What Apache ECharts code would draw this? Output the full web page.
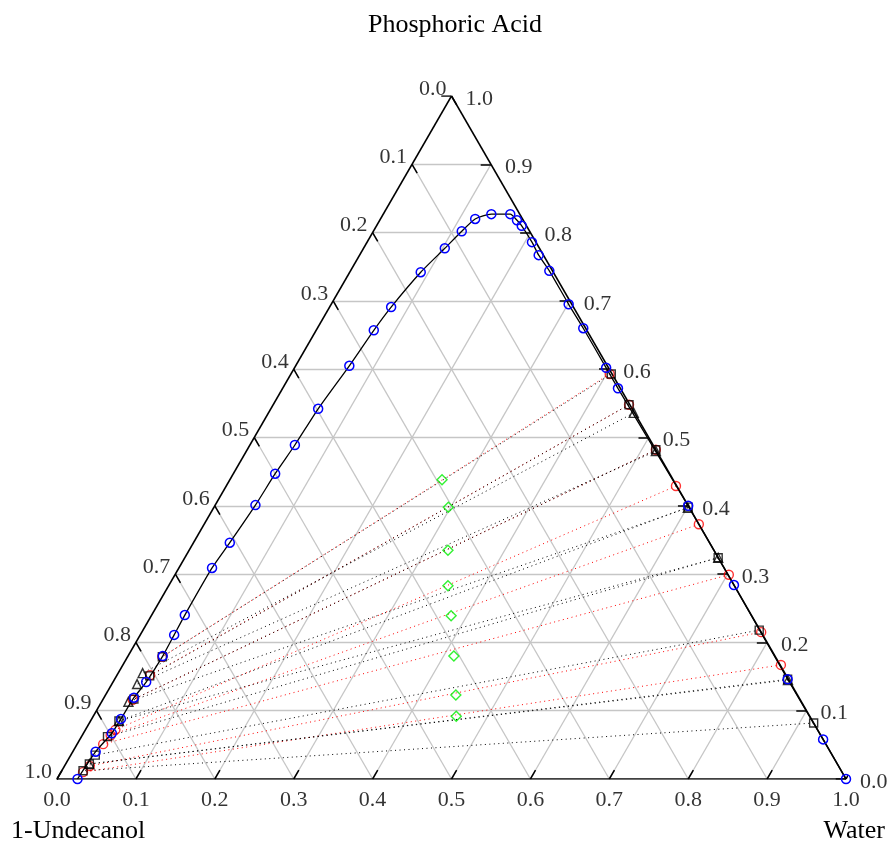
<!DOCTYPE html>
<html>
<head>
<meta charset="utf-8">
<script src="https://cdn.jsdelivr.net/npm/echarts@6/dist/echarts.min.js"></script>
<style>
  html, body { margin: 0; background: #fff; }
  #chart { width: 890px; height: 844px; }
</style>
</head>
<body>
<div id="chart"></div>
<script>
// compositions are [water, phosphoric acid] mass fractions, 1-undecanol is the rest
const ticks = [0, 0.1, 0.2, 0.3, 0.4, 0.5, 0.6, 0.7, 0.8, 0.9, 1.0];
const tickLabels = ['0.0', '0.1', '0.2', '0.3', '0.4', '0.5', '0.6', '0.7', '0.8', '0.9', '1.0'];

// binodal curve (blue circles)
const binodalWater = [0.026, 0.029, 0.036, 0.037, 0.038, 0.042, 0.044, 0.043, 0.042, 0.042, 0.046, 0.051, 0.053,
  0.057, 0.060, 0.068, 0.073, 0.078, 0.090, 0.103, 0.112, 0.120, 0.137, 0.161, 0.174, 0.184, 0.209, 0.227,
  0.252, 0.301, 0.337, 0.395, 0.425, 0.600, 0.716, 0.853, 0.942, 1.000];
const binodalAcid = [0.000, 0.040, 0.067, 0.088, 0.119, 0.142, 0.180, 0.211, 0.240, 0.309, 0.346, 0.401, 0.447,
  0.489, 0.542, 0.605, 0.657, 0.691, 0.742, 0.777, 0.802, 0.820, 0.827, 0.827, 0.818, 0.810, 0.786, 0.767,
  0.744, 0.695, 0.660, 0.602, 0.572, 0.400, 0.284, 0.146, 0.058, 0.000];

// tie lines, red circles
const redAqWater = [0.404, 0.451, 0.518, 0.570, 0.627, 0.702, 0.785, 0.834];
const redAqAcid = [0.593, 0.548, 0.482, 0.429, 0.373, 0.299, 0.215, 0.167];
const redOrgWater = [0.044, 0.042, 0.038, 0.038, 0.036, 0.033, 0.032, 0.028];
const redOrgAcid = [0.179, 0.152, 0.116, 0.072, 0.064, 0.051, 0.019, 0.010];

// tie lines, black squares
const squareAqWater = [0.406, 0.451, 0.518, 0.601, 0.676, 0.781, 0.853, 0.918];
const squareAqAcid = [0.593, 0.548, 0.482, 0.398, 0.324, 0.218, 0.146, 0.082];
const squareOrgWater = [0.044, 0.042, 0.039, 0.036, 0.033, 0.031, 0.030, 0.027];
const squareOrgAcid = [0.179, 0.151, 0.117, 0.085, 0.062, 0.035, 0.022, 0.012];

// tie lines, black triangles
const triangleAqWater = [0.463, 0.519, 0.601, 0.676, 0.854];
const triangleAqAcid = [0.536, 0.480, 0.397, 0.324, 0.145];
const triangleOrgWater = [0.031, 0.032, 0.034, 0.036, 0.030];
const triangleOrgAcid = [0.155, 0.139, 0.113, 0.085, 0.022];

// feed points (green diamonds)
const feedWater = [0.269, 0.297, 0.328, 0.354, 0.380, 0.413, 0.444, 0.460];
const feedAcid = [0.438, 0.398, 0.335, 0.283, 0.239, 0.180, 0.123, 0.092];

const H = Math.sqrt(3) / 2;
function xy(w, a) { return [w + a / 2, a * H]; }
function pts(ws, as) { return ws.map((w, i) => xy(w, as[i])); }
function ties(w1, a1, w2, a2) {
  return w1.map((w, i) => ({ coords: [xy(w, a1[i]), xy(w2[i], a2[i])] }));
}

const gridSegs = [];
ticks.slice(1, -1).forEach(t => {
  gridSegs.push({ coords: [xy(0, t), xy(1 - t, t)] });
  gridSegs.push({ coords: [xy(t, 0), xy(t, 1 - t)] });
  gridSegs.push({ coords: [xy(1 - t, 0), xy(0, 1 - t)] });
});

const tk = 0.013;
const tickSegs = [];
ticks.forEach(t => {
  tickSegs.push({ coords: [xy(t, 0), xy(t, tk)] });
  tickSegs.push({ coords: [xy(1 - t, t), xy(1 - t - tk, t)] });
  tickSegs.push({ coords: [xy(0, 1 - t), xy(tk, 1 - t - tk)] });
});

const edges = [
  { coords: [xy(0, 0), xy(1, 0)] },
  { coords: [xy(1, 0), xy(0, 1)] },
  { coords: [xy(0, 1), xy(0, 0)] }
];

const font = '"Liberation Serif", "Times New Roman", serif';
const labelStyle = { show: true, color: '#000', fontSize: 22, fontFamily: font, formatter: p => p.data[2] };

function markers(data, symbol, size, color) {
  return {
    type: 'scatter', data: data, symbol: symbol, symbolSize: size, z: 5, silent: true,
    itemStyle: { color: 'transparent', borderColor: color, borderWidth: 1.4 }
  };
}
function tieSeries(data, color) {
  return {
    type: 'lines', coordinateSystem: 'cartesian2d', data: data, z: 2, silent: true,
    lineStyle: { color: color, width: 1, type: [1, 3.5], opacity: 1 }
  };
}

const chart = echarts.init(document.getElementById('chart'));
chart.setOption({
  animation: false,
  backgroundColor: '#fff',
  grid: { left: 57, top: 96, width: 789, height: 683 },
  xAxis: { type: 'value', min: 0, max: 1, show: false },
  yAxis: { type: 'value', min: 0, max: H, show: false },
  graphic: [
    { type: 'text', x: 455, y: 12, style: { text: 'Phosphoric Acid', font: '26px ' + font, fill: '#000', align: 'center' } },
    { type: 'text', x: 11, y: 818, style: { text: '1-Undecanol', font: '26px ' + font, fill: '#000' } },
    { type: 'text', x: 885, y: 818, style: { text: 'Water', font: '26px ' + font, fill: '#000', align: 'right' } }
  ],
  series: [
    { type: 'lines', coordinateSystem: 'cartesian2d', data: gridSegs, z: 1, silent: true,
      lineStyle: { color: '#c6c6c6', width: 1.3, opacity: 1 } },
    tieSeries(ties(redAqWater, redAqAcid, redOrgWater, redOrgAcid), '#ff0000'),
    tieSeries(ties(squareAqWater, squareAqAcid, squareOrgWater, squareOrgAcid), '#000'),
    tieSeries(ties(triangleAqWater, triangleAqAcid, triangleOrgWater, triangleOrgAcid), '#000'),
    { type: 'lines', coordinateSystem: 'cartesian2d', data: edges.concat(tickSegs), z: 3, silent: true,
      lineStyle: { color: '#000', width: 1.5, opacity: 1 } },
    {
      type: 'line', data: pts(binodalWater, binodalAcid), smooth: 0.2,
      symbol: 'circle', symbolSize: 9, showAllSymbol: true, z: 6, silent: true,
      lineStyle: { color: '#000', width: 1.3 },
      itemStyle: { color: 'transparent', borderColor: '#0000ff', borderWidth: 1.5 }
    },
    markers(pts(redAqWater, redAqAcid).concat(pts(redOrgWater, redOrgAcid)), 'circle', 9, '#ff0000'),
    markers(pts(squareAqWater, squareAqAcid).concat(pts(squareOrgWater, squareOrgAcid)), 'rect', 8, '#000'),
    markers(pts(triangleAqWater, triangleAqAcid).concat(pts(triangleOrgWater, triangleOrgAcid)), 'triangle', 9, '#000'),
    markers(pts(feedWater, feedAcid), 'diamond', 10, '#00ee00'),
    { type: 'scatter', symbolSize: 0, silent: true, z: 7,
      data: ticks.map((t, i) => xy(t, 0).concat([tickLabels[i]])),
      label: Object.assign({ position: 'bottom', distance: 10 }, labelStyle) },
    { type: 'scatter', symbolSize: 0, silent: true, z: 7,
      data: ticks.map((t, i) => xy(1 - t, t).concat([tickLabels[i]])),
      label: Object.assign({ position: 'right', distance: 14, offset: [0, 3] }, labelStyle) },
    { type: 'scatter', symbolSize: 0, silent: true, z: 7,
      data: ticks.map((t, i) => xy(0, 1 - t).concat([tickLabels[i]])),
      label: Object.assign({ position: 'left', distance: 5, offset: [0, -7] }, labelStyle) }
  ]
});
</script>
</body>
</html>
